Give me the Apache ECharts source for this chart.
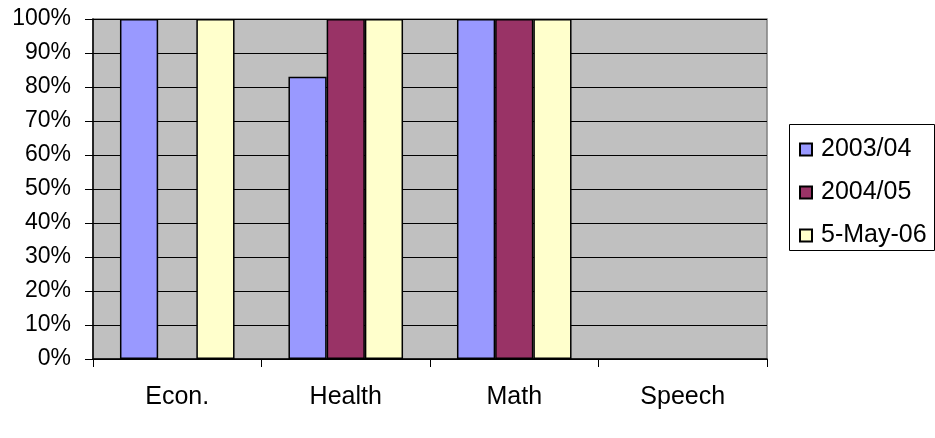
<!DOCTYPE html>
<html>
<head>
<meta charset="utf-8">
<script src="https://cdn.jsdelivr.net/npm/echarts@6/dist/echarts.min.js"></script>
<style>
  html, body { margin: 0; padding: 0; background: #ffffff; }
  #chart { width: 935px; height: 438px; }
</style>
</head>
<body>
<div id="chart"></div>
<script>
// Subjects along the x axis
const categories = ['Econ.', 'Health', 'Math', 'Speech'];
// Percentage per subject for each year (null = no value)
const year2003 = [100, 83, 100, null];
const year2004 = [null, 100, 100, null];
const year2005 = [100, 100, 100, null];
const seriesNames = ['2003/04', '2004/05', '5-May-06'];
const seriesColors = ['#9999FF', '#993366', '#FFFFCC'];

const FONT = 'Liberation Sans, Arial, sans-serif';

const chart = echarts.init(document.getElementById('chart'), null, { renderer: 'canvas' });

const makeBar = (name, data, color) => ({
  name: name,
  type: 'bar',
  data: data,
  barGap: '0%',
  barCategoryGap: '32%',
  itemStyle: { color: color, borderColor: '#000000', borderWidth: 1.5 },
  emphasis: { disabled: true },
  animation: false
});

chart.setOption({
  animation: false,
  textStyle: { fontFamily: FONT },
  grid: {
    left: 93, right: 168, top: 19, bottom: 79,
    show: true, backgroundColor: '#C0C0C0', borderColor: '#808080', borderWidth: 1.5
  },
  legend: {
    orient: 'vertical',
    left: 799, top: 137,
    padding: 0,
    itemWidth: 12, itemHeight: 12,
    itemGap: 18,
    icon: 'rect',
    selectedMode: false,
    textStyle: { fontSize: 25, color: '#000000', fontFamily: FONT, padding: [0, 0, 0, 4] },
    data: seriesNames
  },
  graphic: [{
    type: 'rect',
    shape: { x: 789.5, y: 124.5, width: 145, height: 126 },
    style: { fill: 'none', stroke: '#000000', lineWidth: 1 },
    silent: true
  }],
  xAxis: {
    type: 'category',
    data: categories,
    axisLine: { show: true, lineStyle: { color: '#000000', width: 1.5 } },
    axisTick: { show: true, length: 8, lineStyle: { color: '#000000' } },
    axisLabel: { fontSize: 25, color: '#000000', margin: 26, fontFamily: FONT },
    splitLine: { show: false }
  },
  yAxis: {
    type: 'value',
    min: 0, max: 100, interval: 10,
    axisLine: { show: true, lineStyle: { color: '#000000', width: 1.5 } },
    axisTick: { show: true, length: 8, lineStyle: { color: '#000000' } },
    axisLabel: { fontSize: 23, color: '#000000', margin: 22, formatter: '{value}%', fontFamily: FONT },
    splitLine: { show: true, lineStyle: { color: '#000000', width: 1 } }
  },
  series: [
    makeBar(seriesNames[0], year2003, seriesColors[0]),
    makeBar(seriesNames[1], year2004, seriesColors[1]),
    makeBar(seriesNames[2], year2005, seriesColors[2])
  ]
});
</script>
</body>
</html>
